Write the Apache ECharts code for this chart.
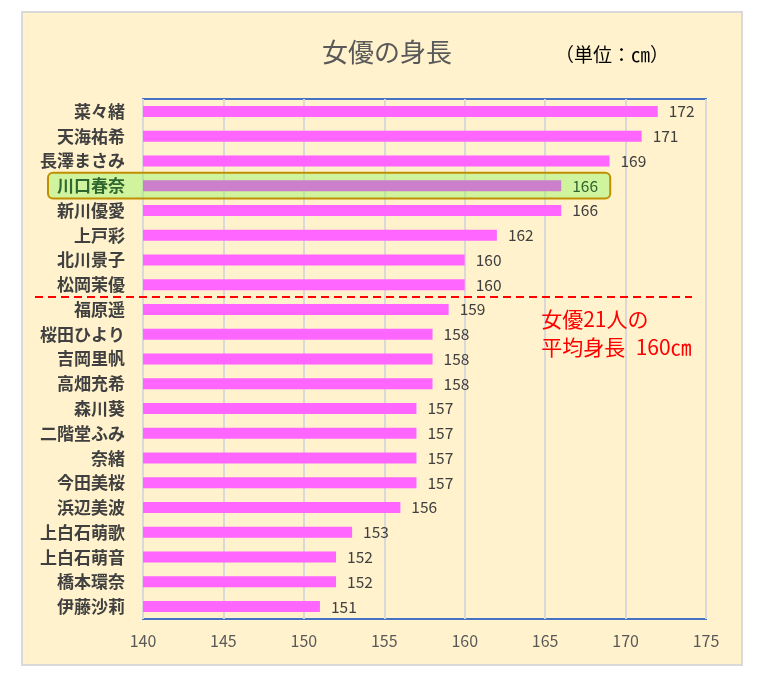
<!DOCTYPE html>
<html><head><meta charset="utf-8">
<script src="https://cdn.jsdelivr.net/npm/echarts@6/dist/echarts.min.js"></script>
<style>html,body{margin:0;padding:0;background:#fff}#c{width:760px;height:685px}</style>
</head><body><div id="c"></div>
<script>
const names = ['菜々緒','天海祐希','長澤まさみ','川口春奈','新川優愛','上戸彩','北川景子','松岡茉優','福原遥','桜田ひより','吉岡里帆','高畑充希','森川葵','二階堂ふみ','奈緒','今田美桜','浜辺美波','上白石萌歌','上白石萌音','橋本環奈','伊藤沙莉'];
const heights = [172,171,169,166,166,162,160,160,159,158,158,158,157,157,157,157,156,153,152,152,151];
const highlightName = '川口春奈';
const averageHeight = 160;
const averageAfterIndex = 7;
const xTicks = {min:140, max:175, interval:5};

const FONT = '"Noto Sans CJK JP", "Noto Sans", sans-serif';
const hi = names.indexOf(highlightName);
const chart = echarts.init(document.getElementById('c'), null, {renderer:'canvas'});

const data = heights.map((v,i)=> i===hi ? {value:v, itemStyle:{color:'#CC80CC'}, label:{color:'#2E6630'}} : v);

chart.setOption({
  backgroundColor:'#ffffff',
  animation:false,
  textStyle:{fontFamily:FONT},
  title:[{text:'女優の身長', left:382, top:34, textAlign:'center',
    textStyle:{fontFamily:FONT, fontSize:26, fontWeight:'normal', color:'#595959'}},
    {text:'（単位：㎝）', left:550, top:40,
    textStyle:{fontFamily:FONT, fontSize:19, fontWeight:'normal', color:'#000000'}}],
  grid:{left:143, right:54, top:99, bottom:66, show:true, borderColor:'#4472C4', borderWidth:2, backgroundColor:'transparent'},
  xAxis:{type:'value', min:xTicks.min, max:xTicks.max, interval:xTicks.interval,
    axisLine:{show:false}, axisTick:{show:false},
    splitLine:{lineStyle:{color:'#D9D9D9', width:2}},
    axisLabel:{color:'#595959', fontSize:16, margin:14, fontFamily:FONT}},
  yAxis:{type:'category', inverse:true, data:names, z:6,
    axisLine:{show:false}, axisTick:{show:false},
    axisLabel:{margin:18, fontSize:17, fontWeight:'bold', color:'#404040', fontFamily:FONT,
      formatter:(v)=> v===highlightName ? '{h|'+v+'}' : v,
      rich:{h:{color:'#2E6630', fontSize:17, fontWeight:'bold', fontFamily:FONT}}}},
  series:[{type:'bar', data:data, barWidth:11, itemStyle:{color:'#FF66FF'}, z:3,
    label:{show:true, position:'right', distance:11, color:'#404040', fontSize:15.5, fontFamily:FONT}}]
});

function annotate(){
  const yTop = chart.convertToPixel({yAxisIndex:0}, names[hi]);
  const band = chart.convertToPixel({yAxisIndex:0}, names[1]) - chart.convertToPixel({yAxisIndex:0}, names[0]);
  const x0 = chart.convertToPixel({xAxisIndex:0}, xTicks.min);
  const xv = chart.convertToPixel({xAxisIndex:0}, heights[hi]);
  const xMax = chart.convertToPixel({xAxisIndex:0}, xTicks.max);
  const yLine = chart.convertToPixel({yAxisIndex:0}, names[averageAfterIndex]) + band/2;
  const x165 = chart.convertToPixel({xAxisIndex:0}, 165);
  chart.setOption({graphic:[
    {type:'rect', z:-100, shape:{x:22, y:12, width:720, height:653},
      style:{fill:'#FFF2CC', stroke:'#D9D9D9', lineWidth:2}},
    {type:'rect', z:1, shape:{x:x0-95, y:yTop-band/2-0.5, width:(xv+49)-(x0-95), height:band+1, r:5},
      style:{fill:'rgba(150,245,100,0.45)', stroke:'#BF9000', lineWidth:2}},
    {type:'line', z:10, shape:{x1:35, y1:yLine, x2:xMax-14, y2:yLine},
      style:{stroke:'#FF0000', lineWidth:2, lineDash:[8,5]}},
    {type:'text', z:10, x:x165-4, y:yLine+8,
      style:{text:'女優21人の\n平均身長\u2002'+averageHeight+'㎝', fill:'#FF0000', fontSize:21, fontFamily:FONT, lineHeight:28}}
  ]});
}
annotate();
</script></body></html>
